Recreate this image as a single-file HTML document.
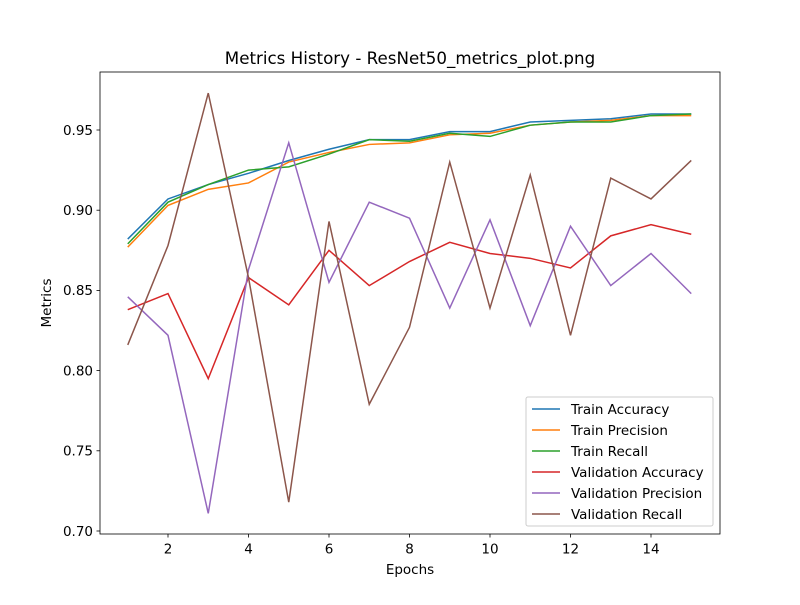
<!DOCTYPE html>
<html><head><meta charset="utf-8"><style>
body{margin:0;background:#fff;font-family:"Liberation Sans","DejaVu Sans",sans-serif;}
svg text{font-family:"DejaVu Sans","Liberation Sans",sans-serif;}
</style></head><body>
<svg id="chart" width="800" height="600" xmlns="http://www.w3.org/2000/svg"></svg>
<script>
const epochs=[1,2,3,4,5,6,7,8,9,10,11,12,13,14,15];
const trainAcc=[0.882,0.907,0.916,0.923,0.931,0.938,0.944,0.944,0.949,0.949,0.955,0.956,0.957,0.960,0.960];
const trainPrec=[0.877,0.903,0.913,0.917,0.930,0.936,0.941,0.942,0.947,0.948,0.953,0.955,0.956,0.959,0.959];
const trainRec=[0.879,0.905,0.916,0.925,0.927,0.935,0.944,0.943,0.948,0.946,0.953,0.955,0.955,0.959,0.960];
const valAcc=[0.838,0.848,0.795,0.858,0.841,0.875,0.853,0.868,0.880,0.873,0.870,0.864,0.884,0.891,0.885];
const valPrec=[0.846,0.822,0.711,0.863,0.942,0.855,0.905,0.895,0.839,0.894,0.828,0.890,0.853,0.873,0.848];
const valRec=[0.816,0.878,0.973,0.858,0.718,0.893,0.779,0.827,0.930,0.839,0.922,0.822,0.920,0.907,0.931];
const xTicks=[2,4,6,8,10,12,14];
const yTicks=[0.70,0.75,0.80,0.85,0.90,0.95];
const seriesNames=["Train Accuracy","Train Precision","Train Recall","Validation Accuracy","Validation Precision","Validation Recall"];
const seriesData=[trainAcc,trainPrec,trainRec,valAcc,valPrec,valRec];
const colors=["#1f77b4","#ff7f0e","#2ca02c","#d62728","#9467bd","#8c564b"];
const L=100,R=720,T=72,B=534;
const x=v=>168+(v-2)*(651-168)/12;
const y=v=>130+(0.95-v)*(531-130)/0.25;
const svg=document.getElementById('chart');
const NS="http://www.w3.org/2000/svg";
function mk(tag,attrs,parent){const e=document.createElementNS(NS,tag);for(const k in attrs)e.setAttribute(k,attrs[k]);(parent||svg).appendChild(e);return e;}
seriesData.forEach((d,i)=>{
  const p=mk('polyline',{points:d.map((v,j)=>x(epochs[j])+','+y(v)).join(' '),fill:'none',stroke:colors[i],'stroke-width':1.5});
  
  
});
const frame=mk('rect',{x:L,y:T,width:R-L,height:B-T,fill:'none',stroke:'#000','stroke-width':0.8});


xTicks.forEach(t=>{
  mk('line',{x1:x(t),x2:x(t),y1:B,y2:B+3.5,stroke:'#000','stroke-width':0.8});
  const tx=mk('text',{x:x(t),y:B+19.5,'text-anchor':'middle','font-size':13.5});
  tx.textContent=t;
  
  
});
yTicks.forEach(t=>{
  mk('line',{x1:L-3.5,x2:L,y1:y(t),y2:y(t),stroke:'#000','stroke-width':0.8});
  const tx=mk('text',{x:L-7,y:y(t)+4.8,'text-anchor':'end','font-size':13.5});
  tx.textContent=t.toFixed(2);
  
  
});
const title=mk('text',{x:410,y:64,'text-anchor':'middle','font-size':16.7});
title.textContent="Metrics History - ResNet50_metrics_plot.png";


const xl=mk('text',{x:410,y:574,'text-anchor':'middle','font-size':13.5});
xl.textContent="Epochs";


const yl=mk('text',{x:51,y:303,'text-anchor':'middle','font-size':13.5,transform:'rotate(-90 51 303)'});
yl.textContent="Metrics";


const lg=mk('g',{});


mk('rect',{x:526,y:397,width:187,height:129,rx:2,fill:'#fff','fill-opacity':0.8,stroke:'#ccc'},lg);
seriesNames.forEach((n,i)=>{
  const yy=409+i*21;
  mk('line',{x1:532,x2:560,y1:yy,y2:yy,stroke:colors[i],'stroke-width':1.5},lg);
  const t=mk('text',{x:571,y:yy+4.8,'font-size':13.5},lg);
  t.textContent=n;
  
  
});
</script>
</body></html>
